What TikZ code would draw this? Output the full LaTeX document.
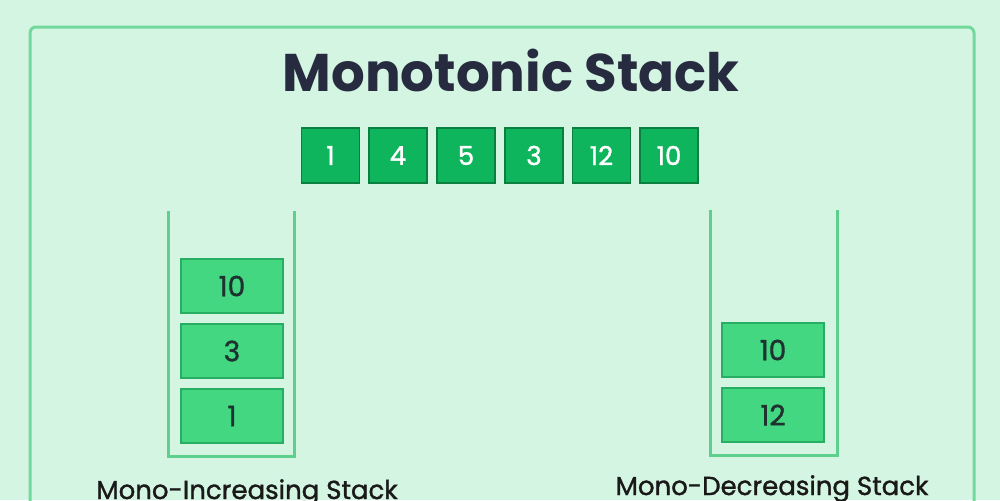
\documentclass[tikz,border=0pt]{standalone}
\usepackage{fontspec}
\setmainfont{Poppins}
\newfontfamily\medfont[FakeBold=1.3]{Poppins}
\definecolor{bgc}{HTML}{D5F5E3}
\definecolor{framec}{HTML}{72D99C}
\definecolor{titlec}{HTML}{262B3F}
\definecolor{arrfill}{HTML}{0EB55C}
\definecolor{arrdraw}{HTML}{0B7F40}
\definecolor{stkfill}{HTML}{43D782}
\definecolor{stkdraw}{HTML}{27AE63}
\definecolor{wallc}{HTML}{5FCF8E}
\definecolor{numc}{HTML}{1E3330}
\tikzset{
  arrbox/.style={draw=arrdraw, fill=arrfill, line width=0.8pt, minimum width=29pt, minimum height=27.5pt, inner sep=0pt, text=white, font=\medfont\fontsize{13}{13}\selectfont},
  stkbox/.style={draw=stkdraw, fill=stkfill, line width=0.8pt, minimum width=51pt, minimum height=27pt, inner sep=0pt, text=numc, font=\medfont\fontsize{14}{14}\selectfont},
  wall/.style={draw=wallc, line width=1.5pt},
  lbl/.style={text=black!90, font=\medfont\fontsize{13}{13}\selectfont, anchor=base, inner sep=0pt}
}
\begin{document}
\begin{tikzpicture}[x=0.5pt, y=-0.5pt]
\useasboundingbox (0,0) rectangle (1000,500);
\fill[bgc] (0,0) rectangle (1000,500);
\clip (0,0) rectangle (1000,500);
\draw[framec, line width=1.5pt, rounded corners=3pt] (30,530) -- (30,27) -- (974,27) -- (974,530);
\node[text=titlec, font=\fontsize{26.5}{26.5}\bfseries\selectfont, anchor=base, inner sep=0pt] (title) at (511,91) {Monotonic Stack};
% array
\node[arrbox] (a1) at (330.5,155.5) {1};
\node[arrbox] (a2) at (398,155.5) {4};
\node[arrbox] (a3) at (466,155.5) {5};
\node[arrbox] (a4) at (534,155.5) {3};
\node[arrbox] (a5) at (601.5,155.5) {12};
\node[arrbox] (a6) at (669,155.5) {10};
% left stack
\draw[wall] (168,211) -- (168,456) -- (294,456) -- (294,211);
\node[stkbox] (l3) at (232,286) {10};
\node[stkbox] (l2) at (232,351) {3};
\node[stkbox] (l1) at (232,416) {1};
\node[lbl] (llab) at (247,499) {Mono-Increasing Stack};
% right stack
\draw[wall] (710,210) -- (710,455) -- (837,455) -- (837,210);
\node[stkbox] (r2) at (773,350) {10};
\node[stkbox] (r1) at (773,415) {12};
\node[lbl] (rlab) at (772,495) {Mono-Decreasing Stack};
\end{tikzpicture}
\end{document}
